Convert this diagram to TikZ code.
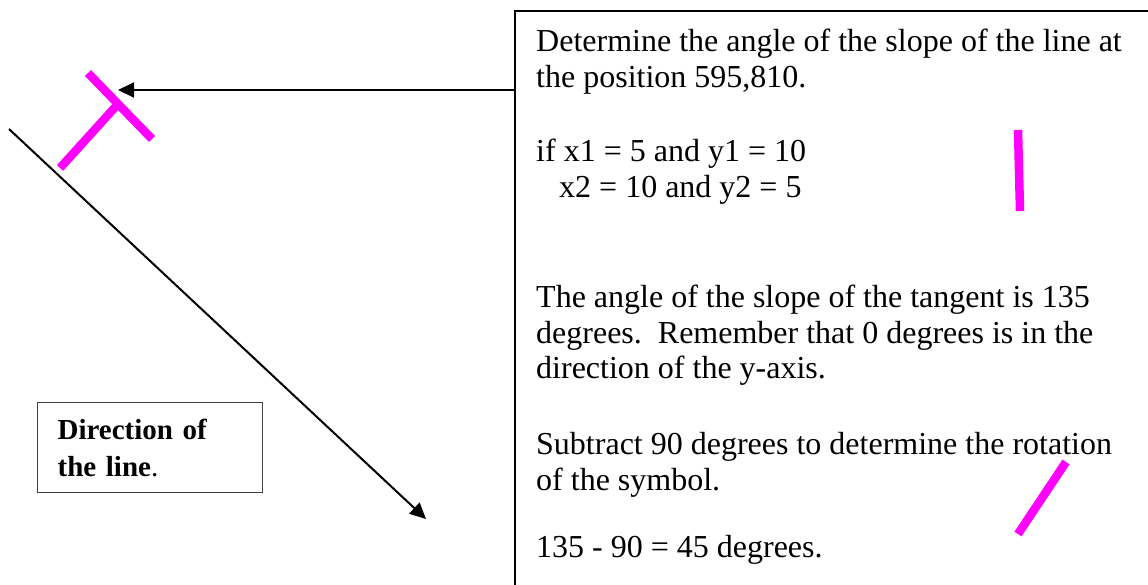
\documentclass[tikz,border=0pt]{standalone}
\usepackage{fontspec}
\setmainfont{Liberation Serif}
\usetikzlibrary{positioning, arrows.meta}
\definecolor{symmag}{HTML}{FF00FF}

\tikzset{
  notetext/.style={anchor=north west, inner sep=0pt, align=left,
    font=\fontsize{32}{35.5}\selectfont},
  notebox/.style={draw=black, line width=1.5pt, anchor=north west,
    minimum width=700pt, minimum height=700pt},
  dirbox/.style={draw=black!75, line width=1.2pt, anchor=north west,
    minimum width=225pt, minimum height=90pt, text width=185pt,
    inner xsep=20pt, align=left, font=\fontsize{29}{37}\selectfont},
  magbar/.style={draw=symmag, line width=8.5pt},
  pointer/.style={line width=2pt, -{Triangle[length=16pt,width=15pt]}}
}

\begin{document}
\begin{tikzpicture}[x=1pt, y=-1pt]
  \useasboundingbox (0,0) rectangle (1148,584);
  \clip (0,0) rectangle (1148,584);

  % the note on the right
  \node[notebox] (notes) at (514,10) {};
  \node[notetext] (askline) at (536,29.1)
    {Determine the angle of the slope of the line at\\the position 595,810.};
  \node[notetext] (givens) at (536,139.1)
    {if x1 = 5 and y1 = 10\\\hspace*{23pt}x2 = 10 and y2 = 5};
  \node[notetext] (tangent) at (536,285.1)
    {The angle of the slope of the tangent is 135\\degrees.\ \ Remember that 0 degrees is in the\\direction of the y-axis.};
  \node[notetext] (subtract) at (536,432.1)
    {Subtract 90 degrees to determine the rotation\\of the symbol.};
  \node[notetext] (result) at (536,535.1) {135 - 90 = 45 degrees.};

  % label of the line
  \node[dirbox] (dir) at (37,402) {\textbf{Direction of}\\\textbf{the line}.};

  % the line and the symbol on it
  \coordinate (linestart) at (9,129);
  \coordinate (lineend) at (426,519);
  \draw[pointer] (linestart) -- (lineend);

  \coordinate (tee) at (118,90);
  \draw[magbar] (88,73) -- (152,139);
  \draw[magbar] (60,168) -- (118,104);

  \draw[pointer] (notes.west |- tee) -- (tee);

  % rotation marks
  \draw[magbar] (1018,130) -- (1020,211);
  \draw[magbar] (1066,462) -- (1018,534);
\end{tikzpicture}
\end{document}
